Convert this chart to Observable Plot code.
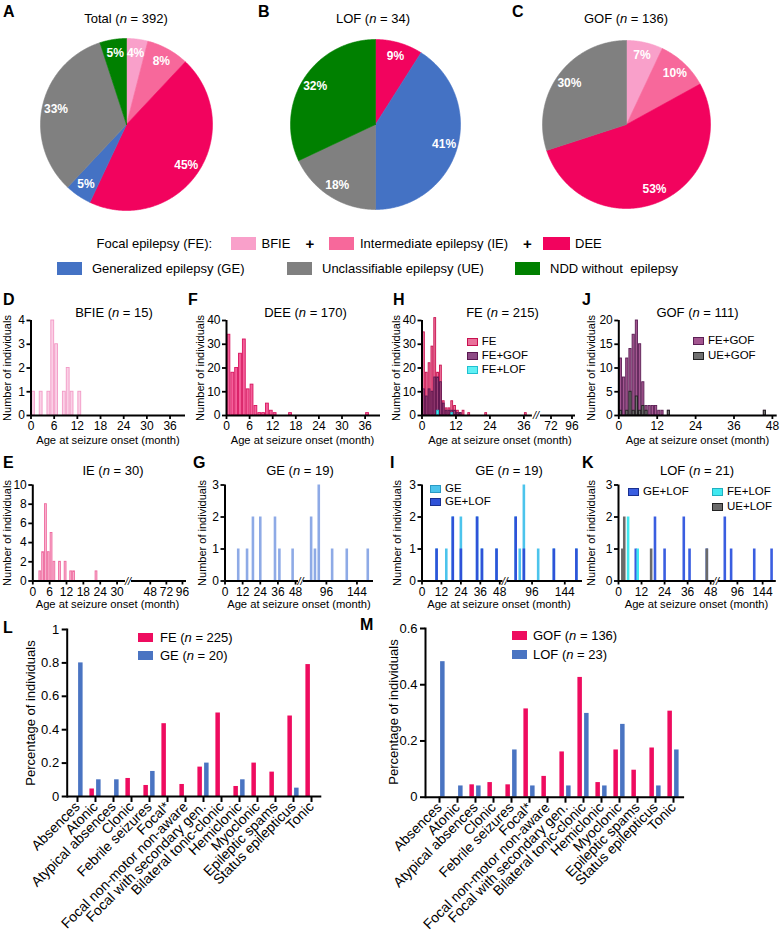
<!DOCTYPE html>
<html><head><meta charset="utf-8">
<script src="https://cdn.jsdelivr.net/npm/d3@7"></script>
<script src="https://cdn.jsdelivr.net/npm/@observablehq/plot@0.6"></script>
<style>
body{margin:0;background:#fff;}
#root{position:relative;width:780px;height:932px;overflow:hidden;font-family:"Liberation Sans",Arial,sans-serif;color:#000;}
#root svg{position:absolute;left:0;top:0;}
.t{position:absolute;white-space:nowrap;line-height:1;}
.s{position:absolute;box-sizing:border-box;}
</style></head><body><div id="root"></div>
<script>
// ---------- DATA ----------
const pieCats = ["BFIE","IE","DEE","GE","UE","NDD"];
const pieColors = ["#f9a0ca","#f7689b","#f2035e","#4472c4","#808080","#008000"];
const pieTotalPct = [4, 8, 45, 5, 33, 5];
const pieLofPct = [0, 0, 9, 41, 18, 32];
const pieGofPct = [7, 10, 53, 0, 30, 0];

const bfieMonths = [0,2,4,5,6,8,9,10,12];
const bfieCounts = [1,1,1,4,3,1,2,1,1];
const ieMonths = [2,3,4,5,6,7,9,11,13,14,22,84];
const ieCounts = [1,3,8,3,5,2,2,2,1,1,1,1];
const deeMonths = [0,1,2,3,4,5,6,7,8,9,10,11,12,16,36];
const deeCounts = [34,18,20,26,32,11,13,4,1,1,5,2,1,1,1];
const feMonths = [0,1,2,3,4,5,6,7,8,9,10,11,12,13,14,16,22,36,84];
const feCounts = [35,18,22,29,41,18,21,6,3,3,6,4,2,1,2,1,1,1,1];
const feGofMonths = [0,1,2,3,4,5,6,7,8,9,10,11,12,13];
const feGofCounts = [11,8,11,10,16,16,14,5,2,2,2,2,1,1];
const gofMonths = [0,1,2,3,4,5,6,7,8,9,10,11,12,13,15,45];
const gofCounts = [12,8,12,14,17,20,15,7,2,2,2,2,1,1,1,1];
const ueGofMonths = [0,2,3,4,5,6,7,8,15,45];
const ueGofCounts = [1,1,5,1,4,1,2,1,1,1];
const feLofMonths = [5,10];
const feLofCounts = [2,1];
const geMonths = [9,15,19,24,34,37,46,72,78,84,105,128,161];
const geCounts = [1,1,2,2,2,1,1,2,1,3,1,1,1];
const geLofMonths = [9,19,24,34,37,46,72,84,128,161];
const geLofCounts = [1,2,1,2,1,1,2,1,1,1];
const ueLofMonths = [2,3,17,46];
const ueLofCounts = [1,2,1,1];

const seizureTypes = ["Absences","Atonic","Atypical absences","Clonic","Febrile seizures","Focal*","Focal non-motor non-aware","Focal with secondary gen.","Bilateral tonic-clonic","Hemiclonic","Myoclonic","Epileptic spams","Status epilepticus","Tonic"];
const feShare  = [0, 0.045, 0, 0.108, 0.066, 0.436, 0.072, 0.176, 0.50, 0.06, 0.20, 0.146, 0.482, 0.79];
const geShare  = [0.80, 0.10, 0.10, 0, 0.15, 0, 0, 0.20, 0, 0.10, 0, 0, 0.05, 0];
const gofShare = [0, 0, 0.044, 0.052, 0.044, 0.314, 0.074, 0.161, 0.426, 0.052, 0.168, 0.096, 0.175, 0.306];
const lofShare = [0.482, 0.04, 0.04, 0, 0.168, 0.04, 0, 0.04, 0.298, 0.04, 0.259, 0, 0.04, 0.168];

// ---------- HELPERS ----------
const FONT = '"Liberation Sans", Arial, sans-serif';
const root = document.getElementById("root");
function T(html, x, y, o = {}) {
  const d = document.createElement("div");
  d.className = "t";
  d.innerHTML = html;
  const ax = o.anchor === "start" ? "0" : o.anchor === "end" ? "-100%" : "-50%";
  d.style.left = x + "px"; d.style.top = y + "px";
  d.style.fontSize = (o.size || 13) + "px";
  d.style.fontWeight = o.bold ? "bold" : "normal";
  if (o.color) d.style.color = o.color;
  d.style.transform = `translate(${ax},-50%)` + (o.rot ? ` rotate(${o.rot}deg)` : "");
  root.appendChild(d);
}
function S(x, y, w, h, fill, stroke) {
  const d = document.createElement("div");
  d.className = "s";
  d.style.cssText = `left:${x}px;top:${y - h/2}px;width:${w}px;height:${h}px;background:${fill};border:${stroke ? "1px solid " + stroke : "none"};`;
  root.appendChild(d);
}
const base = {width: 780, height: 932, style: {background: "transparent", overflow: "visible", fontFamily: FONT, color: "#000"}};
function frameOpts(x0, x1, yTop, yBase) {
  return {...base, marginLeft: x0, marginRight: 780 - x1, marginTop: yTop, marginBottom: 932 - yBase};
}
const zip = (ms, cs) => ms.map((m, i) => ({m, c: cs[i]}));
const fmt = d => String(d);

// ---------- PIES ----------
function pie(values, cx, cy, r) {
  const items = pieCats.map((c, i) => ({cat: c, v: values[i]})).filter(d => d.v > 0);
  const arcs = d3.pie().sort(null).value(d => d.v)(items);
  const pts = [], labels = [];
  for (const a of arcs) {
    pts.push({cat: a.data.cat, x: 0, y: 0});
    const n = Math.max(4, Math.ceil((a.endAngle - a.startAngle) / 0.01));
    for (let k = 0; k <= n; k++) {
      const t = a.startAngle + (a.endAngle - a.startAngle) * k / n;
      pts.push({cat: a.data.cat, x: Math.sin(t), y: Math.cos(t)});
    }
    pts.push({cat: a.data.cat, x: 0, y: 0});
    const mid = (a.startAngle + a.endAngle) / 2;
    labels.push({x: 0.84 * Math.sin(mid), y: 0.84 * Math.cos(mid), text: a.data.v + "%"});
  }
  root.appendChild(Plot.plot({
    ...frameOpts(cx - r, cx + r, cy - r, cy + r),
    x: {domain: [-1, 1], axis: null}, y: {domain: [-1, 1], axis: null},
    color: {domain: pieCats, range: pieColors},
    marks: [
      Plot.line(pts, {x: "x", y: "y", z: "cat", fill: "cat", stroke: "cat", strokeWidth: 0.6}),
      Plot.text(labels, {x: "x", y: "y", text: "text", fill: "white", fontWeight: "bold", fontSize: 12})
    ]
  }));
}
pie(pieTotalPct, 126, 124, 86);
pie(pieLofPct, 375, 124, 85);
pie(pieGofPct, 626, 124, 84);

T("A", 3, 12, {anchor: "start", bold: true, size: 16});
T("B", 258, 12, {anchor: "start", bold: true, size: 16});
T("C", 512, 12, {anchor: "start", bold: true, size: 16});
T("Total (<i>n</i> = 392)", 126, 18);
T("LOF (<i>n</i> = 34)", 373, 18);
T("GOF (<i>n</i> = 136)", 626, 18);

// legend
T("Focal epilepsy (FE):", 96.5, 243, {anchor: "start"});
S(230.5, 243, 25.5, 13, pieColors[0]); T("BFIE", 261.5, 243, {anchor: "start"});
T("+", 310, 243, {bold: true, size: 15});
S(328.5, 243, 25.5, 13, pieColors[1]); T("Intermediate epilepsy (IE)", 360, 243, {anchor: "start"});
T("+", 527.5, 243, {bold: true, size: 15});
S(542.5, 243, 27.5, 13, pieColors[2]); T("DEE", 575, 243, {anchor: "start"});
S(57, 268, 25, 13, pieColors[3]); T("Generalized epilepsy (GE)", 92, 268, {anchor: "start"});
S(287, 268, 25, 13, pieColors[4]); T("Unclassifiable epilepsy (UE)", 322, 268, {anchor: "start"});
S(515, 268, 25, 13, pieColors[5]); T("NDD without&nbsp; epilepsy", 550, 268, {anchor: "start"});

// ---------- HISTOGRAMS ----------
function hist(cfg) {
  const {segs, yTop, yBase, ymax, yticks, layers} = cfg;
  segs.forEach((s, i) => {
    const lo = i === 0 ? -Infinity : segs[i - 1].dom[1];
    const hi = s.dom[1];
    const marks = [];
    for (const L of layers) {
      const data = zip(L.months, L.counts).filter(d => d.m >= lo && d.m < hi);
      if (L.thin) marks.push(Plot.ruleX(data, {x: "m", y1: 0, y2: "c", stroke: L.fill, strokeWidth: 2.6}));
      else marks.push(Plot.rectY(data, {x: "m", interval: 1, y: "c", fill: L.fill, fillOpacity: L.op ?? 1, stroke: L.stroke, strokeWidth: 0.9}));
    }
    marks.push(Plot.ruleY([0], {strokeWidth: 2}));
    marks.push(Plot.axisX({ticks: s.ticks, tickFormat: fmt, tickSize: 4, strokeWidth: 1.8, tickPadding: 2, fontSize: 12, label: null}));
    if (i === 0) {
      marks.push(Plot.ruleX([s.dom[0]], {y1: 0, y2: ymax, strokeWidth: 2}));
      marks.push(Plot.axisY({ticks: yticks, tickFormat: fmt, tickSize: 4, strokeWidth: 1.8, tickPadding: 2, fontSize: 12, label: null}));
    }
    root.appendChild(Plot.plot({
      ...frameOpts(s.x0, s.x1, yTop, yBase),
      x: {domain: s.dom, axis: null}, y: {domain: [0, ymax], axis: null},
      marks
    }));
  });
  if (segs.length > 1) T("<i>//</i>", (segs[0].x1 + segs[1].x0) / 2, yBase, {size: 11});
}
const R1 = {yTop: 320, yBase: 415}, R2 = {yTop: 484.5, yBase: 580.5};
const t6 = [0, 6, 12, 18, 24, 30, 36];
// D
hist({...R1, ymax: 4, yticks: [0,1,2,3,4], segs: [{x0: 30.5, x1: 185, dom: [0, 40], ticks: t6}],
  layers: [{months: bfieMonths, counts: bfieCounts, fill: "#fbd0e6", stroke: "#f29ac6"}]});
// F
hist({...R1, ymax: 40, yticks: [0,10,20,30,40], segs: [{x0: 226, x1: 380, dom: [0, 40], ticks: t6}],
  layers: [{months: deeMonths, counts: deeCounts, fill: "#f4609a", stroke: "#d8145f"}]});
// H
hist({...R1, ymax: 40, yticks: [0,10,20,30,40],
  segs: [{x0: 421.5, x1: 531.9, dom: [0, 39], ticks: [0,12,24,36]}, {x0: 540, x1: 575, dom: [60, 100], ticks: [72, 96]}],
  layers: [
    {months: feMonths, counts: feCounts, fill: "#e63e78", op: 0.7, stroke: "#c8104f"},
    {months: feGofMonths, counts: feGofCounts, fill: "#6a2a66", op: 0.55, stroke: "#5a1850"},
    {months: feLofMonths, counts: feLofCounts, fill: "#4ff0f0", stroke: "#20c0d0"}
  ]});
// J
hist({...R1, ymax: 20, yticks: [0,5,10,15,20], segs: [{x0: 618.3, x1: 776.7, dom: [0, 49.5], ticks: [0,12,24,36,48]}],
  layers: [
    {months: gofMonths, counts: gofCounts, fill: "#a2558f", stroke: "#5c1f55"},
    {months: ueGofMonths, counts: ueGofCounts, fill: "#707070", stroke: "#222"}
  ]});
// E
hist({...R2, ymax: 10, yticks: [0,2,4,6,8,10],
  segs: [{x0: 32.3, x1: 125, dom: [0, 33], ticks: [0,6,12,18,24,30]}, {x0: 131, x1: 186, dom: [20, 102], ticks: [48,72,96]}],
  layers: [{months: ieMonths, counts: ieCounts, fill: "#f9b6d2", stroke: "#ee6a9e"}]});
// G
hist({...R2, ymax: 3, yticks: [0,1,2,3],
  segs: [{x0: 224.5, x1: 298, dom: [0, 50], ticks: [0,12,24,36,48]}, {x0: 303, x1: 373, dom: [60, 170], ticks: [96, 144]}],
  layers: [{months: geMonths, counts: geCounts, fill: "#8eaae6", thin: true}]});
// I
hist({...R2, ymax: 3, yticks: [0,1,2,3],
  segs: [{x0: 421.5, x1: 502.5, dom: [0, 50], ticks: [0,12,24,36,48]}, {x0: 507, x1: 582, dom: [60, 170], ticks: [96, 144]}],
  layers: [
    {months: geMonths, counts: geCounts, fill: "#4cc4ec", thin: true},
    {months: geLofMonths, counts: geLofCounts, fill: "#2f52d8", thin: true}
  ]});
// K
hist({...R2, ymax: 3, yticks: [0,1,2,3],
  segs: [{x0: 618, x1: 714, dom: [0, 50], ticks: [0,12,24,36,48]}, {x0: 718, x1: 775.8, dom: [60, 170], ticks: [96, 144]}],
  layers: [
    {months: geLofMonths, counts: geLofCounts, fill: "#3a5ee0", thin: true},
    {months: feLofMonths, counts: feLofCounts, fill: "#40e8f0", thin: true},
    {months: ueLofMonths, counts: ueLofCounts, fill: "#6a6a6a", thin: true}
  ]});

// histogram texts
[["D", 3, 300], ["F", 188, 300], ["H", 393, 300], ["J", 582, 300],
 ["E", 3, 463], ["G", 193, 463], ["I", 390, 463], ["K", 582, 463]].forEach(([l, x, y]) => T(l, x, y, {anchor: "start", bold: true, size: 16}));
T("BFIE (<i>n</i> = 15)", 114, 312); T("DEE (<i>n</i> = 170)", 305.5, 312);
T("FE (<i>n</i> = 215)", 502.5, 312); T("GOF (<i>n</i> = 111)", 697.5, 312);
T("IE (<i>n</i> = 30)", 113, 470); T("GE (<i>n</i> = 19)", 300, 470);
T("GE (<i>n</i> = 19)", 509, 470); T("LOF (<i>n</i> = 21)", 697, 470);
[108, 302.5, 500, 697.5].forEach(x => T("Age at seizure onset (month)", x, 441, {size: 11.2}));
[107.5, 299, 499, 696.5].forEach(x => T("Age at seizure onset (month)", x, 605, {size: 11.2}));
[6.5, 200, 396, 591].forEach(x => T("Number of individuals", x, 367.5, {size: 11, rot: -90}));
[6.5, 202, 397, 591].forEach(x => T("Number of individuals", x, 532.5, {size: 11, rot: -90}));
// histogram legends
function HL(x, y, fill, stroke, label) { S(x, y, 11, 8, fill, stroke); T(label, x + 15, y, {anchor: "start", size: 11.5}); }
HL(466.7, 342.3, "#e9709a", "#c8104f", "FE"); HL(466.7, 356, "#8e4a85", "#5a1850", "FE+GOF"); HL(466.7, 369.5, "#60f0f4", "#20c0d0", "FE+LOF");
HL(693, 341, "#a2558f", "#5c1f55", "FE+GOF"); HL(693, 355.7, "#707070", "#222", "UE+GOF");
HL(430, 488.5, "#4cc4ec", "#2a9ac4", "GE"); HL(430, 501.5, "#2f52d8", "#1a3090", "GE+LOF");
HL(628, 492.3, "#3a5ee0", "#1a3090", "GE+LOF"); HL(712, 492.3, "#40e8f0", "#20b0c0", "FE+LOF"); HL(712, 506.7, "#6a6a6a", "#222", "UE+LOF");

// ---------- BAR CHARTS ----------
function bars(cfg) {
  const {x0, x1, xr, yTop, yBase, ymax, yticks, a, b, ca, cb} = cfg;
  const dA = seizureTypes.map((s, i) => ({s, v: a[i]}));
  const dB = seizureTypes.map((s, i) => ({s, v: b[i]}));
  root.appendChild(Plot.plot({
    ...frameOpts(x0, x1, yTop, yBase),
    x: {domain: seizureTypes, range: xr, padding: 0, axis: null},
    y: {domain: [0, ymax], axis: null},
    marks: [
      Plot.barY(dA, {x: "s", y: "v", fill: ca, insetLeft: 3.4, insetRight: 10.1}),
      Plot.barY(dB, {x: "s", y: "v", fill: cb, insetLeft: 10.1, insetRight: 3.4}),
      Plot.ruleY([0], {strokeWidth: 2}),
      Plot.frame({anchor: "left", strokeWidth: 2}),
      Plot.axisY({ticks: yticks, tickFormat: fmt, tickSize: 5, strokeWidth: 2, tickPadding: 3, fontSize: 13, label: null}),
      Plot.axisX({tickRotate: -45, tickSize: 6, strokeWidth: 2, tickPadding: 2, fontSize: 14, label: null})
    ]
  }));
}
bars({x0: 66.7, x1: 321.3, xr: [66.7, 321.3], yTop: 629, yBase: 796, ymax: 1, yticks: [0,0.2,0.4,0.6,0.8,1],
  a: feShare, b: geShare, ca: "#ee0c5f", cb: "#4a74c2"});
bars({x0: 425, x1: 684.1, xr: [428.2, 684.1], yTop: 628, yBase: 796.7, ymax: 0.6, yticks: [0,0.2,0.4,0.6],
  a: gofShare, b: lofShare, ca: "#ee0c5f", cb: "#4a74c2"});
T("L", 3, 628, {anchor: "start", bold: true, size: 16});
T("M", 360, 625, {anchor: "start", bold: true, size: 16});
T("Percentage of individuals", 29.5, 712.5, {size: 13, rot: -90});
T("Percentage of individuals", 393, 712, {size: 13, rot: -90});
S(138, 637, 15, 9, "#ee0c5f"); T("FE (<i>n</i> = 225)", 160, 637, {anchor: "start"});
S(138, 655, 15, 9, "#4a74c2"); T("GE (<i>n</i> = 20)", 160, 655, {anchor: "start"});
S(512, 635, 15, 9, "#ee0c5f"); T("GOF (<i>n</i> = 136)", 533, 635, {anchor: "start"});
S(512, 654, 15, 9, "#4a74c2"); T("LOF (<i>n</i> = 23)", 533, 654, {anchor: "start"});
</script></body></html>
